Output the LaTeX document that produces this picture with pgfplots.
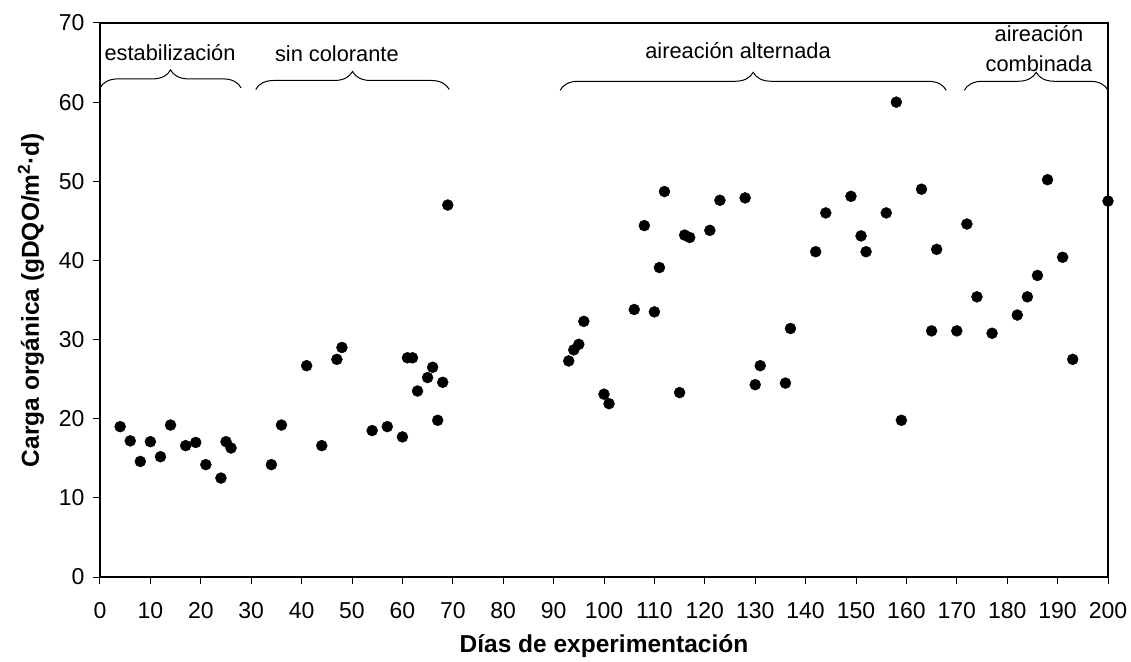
\documentclass[border=0pt]{standalone}
\usepackage{fontspec}
\setmainfont{Liberation Sans}
\usepackage{pgfplots}
\pgfplotsset{compat=1.18}
\usetikzlibrary{decorations.pathreplacing}
\begin{document}
\begin{tikzpicture}
\begin{axis}[
  scale only axis,
  width=1008pt, height=554pt,
  xmin=0, xmax=200, ymin=0, ymax=70,
  xtick={0,10,...,200}, ytick={0,10,...,70},
  tick pos=left, tick align=outside,
  major tick length=7pt,
  axis line style={line width=1.6pt},
  every tick/.style={black, line width=1pt},
  /pgf/number format/assume math mode=true,
  tick label style={font=\fontsize{23}{26}\selectfont},
  xticklabel style={yshift=-15pt},
  yticklabel style={xshift=-5pt},
  xlabel={\textbf{Días de experimentación}},
  ylabel={\textbf{Carga orgánica (gDQO/m\textsuperscript{2}·d)}},
  label style={font=\fontsize{24.5}{28}\selectfont},
  xlabel style={yshift=-9pt},
  ylabel style={yshift=8pt},
  clip=false,
]
\addplot[only marks, mark=*, mark size=5.5pt, black] table {
x y
4 19.0
6 17.2
8 14.6
10 17.1
12 15.2
14 19.2
17 16.6
19 17.0
21 14.2
24 12.5
25 17.1
26 16.3
34 14.2
36 19.2
41 26.7
44 16.6
47 27.5
48 29.0
54 18.5
57 19.0
60 17.7
61 27.7
62 27.7
63 23.5
65 25.2
66 26.5
67 19.8
68 24.6
69 47.0
93 27.3
94 28.7
95 29.4
96 32.3
100 23.1
101 21.9
106 33.8
108 44.4
110 33.5
111 39.1
112 48.7
115 23.3
116 43.2
117 42.9
121 43.8
123 47.6
128 47.9
130 24.3
131 26.7
136 24.5
137 31.4
142 41.1
144 46.0
149 48.1
151 43.1
152 41.1
156 46.0
158 60.0
159 19.8
163 49.0
165 31.1
166 41.4
170 31.1
172 44.6
174 35.4
177 30.8
182 33.1
184 35.4
186 38.1
188 50.2
191 40.4
193 27.5
200 47.5
};
\begin{scope}[line width=1pt, decoration={brace, amplitude=18pt}]
\draw[decorate] (axis cs:0,61.8) -- (axis cs:28,61.8);
\draw[decorate] (axis cs:30.9,61.6) -- (axis cs:69.3,61.6);
\draw[decorate] (axis cs:91.3,61.5) -- (axis cs:167.9,61.5);
\draw[decorate] (axis cs:171.5,61.5) -- (axis cs:200,61.5);
\end{scope}
\begin{scope}[every node/.style={font=\fontsize{21.8}{25}\selectfont, inner sep=0pt}]
\node at (axis cs:13.9,66.3) {estabilización};
\node at (axis cs:47,66.1) {sin colorante};
\node at (axis cs:126.6,66.5) {aireación alternada};
\node at (axis cs:186.3,68.7) {aireación};
\node at (axis cs:186.3,64.9) {combinada};
\end{scope}
\end{axis}
\path (-100pt,-82pt) rectangle (1031pt,577pt);
\end{tikzpicture}
\end{document}
